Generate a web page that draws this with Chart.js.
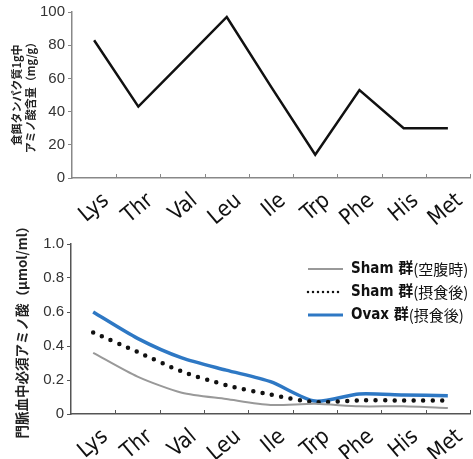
<!DOCTYPE html>
<html>
<head>
<meta charset="utf-8">
<script src="https://cdn.jsdelivr.net/npm/chart.js@4"></script>
<style>
    body { margin: 0; background: #fff; }
    canvas { position: absolute; left: 0; }
    #topChart { top: 0; }
    #bottomChart { top: 225px; }
</style>
</head>
<body>
<canvas id="topChart" width="473" height="225"></canvas>
<canvas id="bottomChart" width="473" height="234"></canvas>
<script>
// Amino acids on both x axes
const categories = ['Lys', 'Thr', 'Val', 'Leu', 'Ile', 'Trp', 'Phe', 'His', 'Met'];

// Top: amino acid content per 1 g dietary protein (mg/g)
const proteinContent = [83, 43, 70, 97, 55, 14, 53, 30, 30];
const topTicks = [0, 20, 40, 60, 80, 100];

// Bottom: portal blood essential amino acids (umol/ml)
const seriesLabels = ['Sham 群(空腹時)', 'Sham 群(摂食後)', 'Ovax 群(摂食後)'];
const shamFasting = [0.36, 0.22, 0.125, 0.088, 0.053, 0.06, 0.045, 0.045, 0.035];
const shamFed = [0.48, 0.365, 0.25, 0.17, 0.114, 0.07, 0.08, 0.08, 0.08];
const ovaxFed = [0.60, 0.445, 0.33, 0.258, 0.19, 0.076, 0.118, 0.112, 0.108];
const bottomTicks = [0, 0.2, 0.4, 0.6, 0.8, 1.0];

const tickFont = { family: "'Liberation Sans', Arial, sans-serif", size: 15 };
const catFont = { family: "'Liberation Sans Narrow', 'DejaVu Sans Condensed', sans-serif", size: 22 };

// small tick marks pointing into the plot between categories
const innerTicks = {
    id: 'innerTicks',
    afterDraw(chart, args, opts) {
        const xs = chart.scales.x;
        const ctx = chart.ctx;
        const n = categories.length;
        ctx.save();
        ctx.strokeStyle = opts.color || '#888';
        ctx.lineWidth = 1;
        for (let i = 1; i <= n; i++) {
            const px = Math.round(xs.left + i * xs.width / n) + 0.5;
            ctx.beginPath();
            ctx.moveTo(px, xs.top);
            ctx.lineTo(px, xs.top - 4);
            ctx.stroke();
        }
        ctx.restore();
    }
};

// legend drawn in the upper right of the plot
const sideLegend = {
    id: 'sideLegend',
    afterDraw(chart, args, opts) {
        if (!opts.show) return;
        const ctx = chart.ctx;
        ctx.save();
        chart.data.datasets.forEach((ds, i) => {
            const y = opts.y + i * opts.gap;
            ctx.beginPath();
            ctx.setLineDash(ds.legendDash || []);
            ctx.lineCap = ds.legendDash ? 'round' : 'butt';
            ctx.lineWidth = ds.legendWidth || ds.borderWidth;
            ctx.strokeStyle = ds.borderColor;
            ctx.moveTo(opts.x, y);
            ctx.lineTo(opts.x + opts.lineLen, y);
            ctx.stroke();
            ctx.setLineDash([]);

            const cut = ds.label.indexOf('(');
            const head = ds.label.slice(0, cut);
            const tail = ds.label.slice(cut);
            ctx.fillStyle = '#111';
            ctx.textBaseline = 'middle';
            ctx.font = "bold 15px 'Liberation Sans Narrow', 'DejaVu Sans Condensed', 'Noto Sans CJK JP', sans-serif";
            const tx = opts.x + opts.lineLen + opts.textGap;
            ctx.fillText(head, tx, y);
            const w = ctx.measureText(head).width;
            ctx.font = "15px 'Noto Sans CJK JP', sans-serif";
            ctx.fillText(tail, tx + w, y);
        });
        ctx.restore();
    }
};

function xAxis(axisColor, height) {
    return {
        offset: true,
        grid: { offset: true, drawOnChartArea: false, drawTicks: false },
        border: { color: axisColor, width: 1.5 },
        ticks: {
            minRotation: 40,
            maxRotation: 40,
            autoSkip: false,
            font: catFont,
            color: '#111',
            padding: 10,
            labelOffset: 12
        },
        afterFit: function(scale) {
            scale.height = height;
            scale.paddingLeft = 0;
            scale.paddingRight = 0;
        }
    };
}

function yAxis(ticks, axisColor, width, titleText, titleFont, titlePad, fmt) {
    return {
        min: ticks[0],
        max: ticks[ticks.length - 1],
        afterBuildTicks: function(scale) {
            scale.ticks = ticks.map(v => ({ value: v }));
        },
        grid: { drawOnChartArea: false, drawTicks: true, tickLength: 4, color: axisColor },
        border: { color: axisColor, width: 1.5 },
        ticks: {
            font: tickFont,
            color: '#333',
            padding: 3,
            callback: fmt
        },
        title: {
            display: true,
            text: titleText,
            font: titleFont,
            color: '#222',
            padding: { top: titlePad, bottom: 0 }
        },
        afterFit: function(scale) {
            scale.width = width;
            scale.paddingTop = 0;
            scale.paddingBottom = 0;
        }
    };
}

new Chart(document.getElementById('topChart'), {
    type: 'line',
    data: {
        labels: categories,
        datasets: [{
            label: 'アミノ酸含量',
            data: proteinContent,
            borderColor: '#111',
            borderWidth: 2.5,
            tension: 0,
            pointRadius: 0
        }]
    },
    options: {
        responsive: false,
        devicePixelRatio: 1,
        animation: false,
        layout: { padding: { top: 12, right: 3, bottom: 0, left: 0 } },
        plugins: {
            legend: { display: false },
            tooltip: { enabled: false },
            innerTicks: { color: '#888' },
            sideLegend: { show: false }
        },
        scales: {
            x: xAxis('#888', 47),
            y: yAxis(topTicks, '#888', 72,
                ['食餌タンパク質1g中', 'アミノ酸含量（mg/g）'],
                { family: "'Noto Sans CJK JP', sans-serif", size: 11, weight: 'bold', lineHeight: 1.25 },
                10,
                v => String(v))
        }
    },
    plugins: [innerTicks, sideLegend]
});

new Chart(document.getElementById('bottomChart'), {
    type: 'line',
    data: {
        labels: categories,
        datasets: [{
            label: seriesLabels[0],
            data: shamFasting,
            borderColor: '#999',
            borderWidth: 2,
            tension: 0.25,
            pointRadius: 0
        }, {
            label: seriesLabels[1],
            data: shamFed,
            borderColor: '#111',
            borderWidth: 4.5,
            borderDash: [0, 9.5],
            borderCapStyle: 'round',
            tension: 0.25,
            pointRadius: 0,
            legendDash: [0, 5],
            legendWidth: 2.5
        }, {
            label: seriesLabels[2],
            data: ovaxFed,
            borderColor: '#2e78c4',
            borderWidth: 3.5,
            tension: 0.25,
            pointRadius: 0,
            legendWidth: 3
        }]
    },
    options: {
        responsive: false,
        devicePixelRatio: 1,
        animation: false,
        layout: { padding: { top: 19, right: 3, bottom: 0, left: 0 } },
        plugins: {
            legend: { display: false },
            tooltip: { enabled: false },
            innerTicks: { color: '#555' },
            sideLegend: { show: true, x: 308, y: 44, gap: 23, lineLen: 35, textGap: 8 }
        },
        scales: {
            x: xAxis('#555', 45),
            y: yAxis(bottomTicks, '#555', 71,
                '門脈血中必須アミノ酸（μmol/ml）',
                { family: "'Noto Sans CJK JP', sans-serif", size: 13.5, weight: 'bold' },
                14,
                v => v === 0 ? '0' : v.toFixed(1))
        }
    },
    plugins: [innerTicks, sideLegend]
});
</script>
</body>
</html>
